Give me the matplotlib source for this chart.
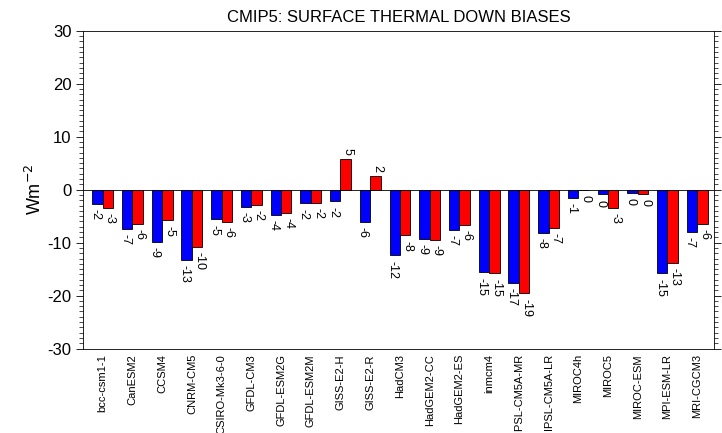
import numpy as np
import matplotlib.pyplot as plt
from matplotlib.ticker import MultipleLocator

plt.rcParams["font.family"] = ["Liberation Sans", "DejaVu Sans"]
plt.rcParams["axes.unicode_minus"] = False

# --- DATA ---------------------------------------------------------------------
models = ["bcc-csm1-1", "CanESM2", "CCSM4", "CNRM-CM5", "CSIRO-Mk3-6-0",
          "GFDL-CM3", "GFDL-ESM2G", "GFDL-ESM2M", "GISS-E2-H", "GISS-E2-R",
          "HadCM3", "HadGEM2-CC", "HadGEM2-ES", "inmcm4", "IPSL-CM5A-MR",
          "IPSL-CM5A-LR", "MIROC4h", "MIROC5", "MIROC-ESM", "MPI-ESM-LR",
          "MRI-CGCM3"]
blue_vals = [-2.7, -7.4, -9.8, -13.3, -5.6, -3.3, -4.8, -2.6, -2.2, -6.1,
             -12.4, -9.3, -7.6, -15.6, -17.6, -8.1, -1.5, -0.9, -0.6, -15.8,
             -7.9]
red_vals = [-3.5, -6.4, -5.8, -10.8, -6.1, -2.9, -4.4, -2.5, 5.7, 2.5,
            -8.6, -9.5, -6.7, -15.8, -19.6, -7.2, 0.0, -3.4, -0.8, -13.8,
            -6.5]

# --- PLOT ---------------------------------------------------------------------
fig = plt.figure(figsize=(7.22, 4.33), dpi=100)
ax = fig.add_axes([0.1155, 0.195, 0.874, 0.734])

x = np.arange(len(models))
w = 0.35

ax.bar(x - w / 2, blue_vals, w, color="#0000ff", edgecolor="black", linewidth=0.6)
ax.bar(x + w / 2, red_vals, w, color="#ff0000", edgecolor="black", linewidth=0.6)

# value labels, nudged slightly outward so neighbours don't collide
for xs, vals in [(x - w / 2 - 0.07, blue_vals), (x + w / 2 + 0.07, red_vals)]:
    for xi, v in zip(xs, vals):
        lab = str(int(v))
        if v > 0:
            ax.text(xi, v + 0.8, lab, rotation=270, ha="center", va="bottom",
                    fontsize=9)
        else:
            ax.text(xi, v - 1.0, lab, rotation=270, ha="center", va="top",
                    fontsize=9)

ax.axhline(0, color="black", linewidth=0.6)

ax.set_xlim(-0.65, 20.58)
ax.set_ylim(-30, 30)
ax.yaxis.set_major_locator(MultipleLocator(10))
ax.yaxis.set_minor_locator(MultipleLocator(1))
ax.tick_params(axis="y", which="both", direction="out", left=True, right=True,
               labelsize=12)
ax.tick_params(axis="y", which="major", length=5, width=0.6)
ax.tick_params(axis="y", which="minor", length=3, width=0.5)

ax.set_xticks(x)
ax.set_xticklabels(models, rotation=90, fontsize=8)
ax.tick_params(axis="x", length=0, pad=4)

for s in ax.spines.values():
    s.set_linewidth(0.6)

ax.set_ylabel("Wm$^{-2}$", fontsize=13, labelpad=2)
ax.set_title("CMIP5: SURFACE THERMAL DOWN BIASES", fontsize=12, pad=6)

plt.savefig("out.png", dpi=100)
